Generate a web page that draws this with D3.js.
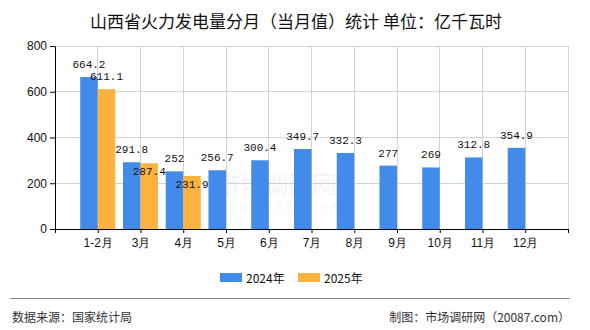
<!DOCTYPE html>
<html><head><meta charset="utf-8">
<script src="https://cdn.jsdelivr.net/npm/d3@7/dist/d3.min.js"></script>
<style>
body{margin:0;background:#fff;}
svg{display:block;font-family:"Noto Sans CJK SC","Noto Sans",sans-serif;}
</style></head>
<body><svg id="c" width="590" height="330"></svg>
<script>
const categories = ["1-2月","3月","4月","5月","6月","7月","8月","9月","10月","11月","12月"];
const values2024 = [664.2,291.8,252,256.7,300.4,349.7,332.3,277,269,312.8,354.9];
const values2025 = [611.1,287.4,231.9];
const seriesNames = ["2024年","2025年"];
const yTicks = [0,200,400,600,800];
const title = "山西省火力发电量分月（当月值）统计 单位：亿千瓦时";
const sourceText = "数据来源：国家统计局";
const creditText = "制图：市场调研网（20087.com）";

const colors = ["#428BEA","#FBB23E"];
const svg = d3.select("#c");
const L = 55, R = 568, T = 46, B = 229;
const x = d3.scaleLinear().domain([0, categories.length + 1]).range([L, R]);
const y = d3.scaleLinear().domain([0, 800]).range([B, T]);
const step = x(1) - x(0);
const barW = step * 0.41;

// title
svg.append("text").attr("x", 296).attr("y", 20).attr("text-anchor","middle")
  .attr("dominant-baseline","central").attr("font-size",17).attr("fill","#111").text(title);

// watermark
const wm = svg.append("g").attr("fill","#000").attr("opacity",0.045);
wm.append("text").attr("x",276).attr("y",193).attr("text-anchor","middle").attr("font-size",24).text("市场调研网");
wm.append("text").attr("x",280).attr("y",210).attr("text-anchor","middle").attr("font-size",10)
  .attr("font-family","'Liberation Sans',Arial,sans-serif").attr("letter-spacing",4).text("www.20087.com");

// grid
const g = svg.append("g");
g.selectAll("line.h").data(yTicks.filter(d=>d>0)).join("line")
  .attr("x1",L).attr("x2",R).attr("y1",d=>y(d)).attr("y2",d=>y(d))
  .attr("stroke","#d3d3d3").attr("stroke-width",1).attr("shape-rendering","crispEdges");
const vIdx = d3.range(1, categories.length + 2);
g.selectAll("line.v").data(vIdx).join("line")
  .attr("x1",d=>x(d)).attr("x2",d=>x(d)).attr("y1",T).attr("y2",B)
  .attr("stroke","#d3d3d3").attr("stroke-width",1).attr("shape-rendering","crispEdges");

// bars
const series = [values2024, values2025];
series.forEach((vals, s) => {
  svg.append("g").selectAll("rect").data(vals).join("rect")
    .attr("x",(d,i)=> s===0 ? x(i+1)-barW : x(i+1))
    .attr("width",barW)
    .attr("y",d=>y(d)).attr("height",d=>B-y(d))
    .attr("fill",colors[s]);
});

// labels with simple overlap avoidance
const lab = svg.append("g").attr("font-family","'Liberation Mono','DejaVu Sans Mono',monospace")
  .attr("font-size",11).attr("fill","#111").attr("text-anchor","middle");
const labH = 11;
values2024.forEach((d,i)=>{
  lab.append("text").attr("x", x(i+1)-barW/2).attr("y", y(d)-12).attr("dominant-baseline","central").text(d);
});
values2025.forEach((d,i)=>{
  const blueC = y(values2024[i]) - 12;
  let c = y(d) - 12;
  if (Math.abs(c - blueC) < labH) c = y(d) + 9;
  lab.append("text").attr("x", x(i+1)+barW/2).attr("y", c).attr("dominant-baseline","central").text(d);
});

// axes
const yAxis = svg.append("g").attr("transform",`translate(${L},0)`)
  .call(d3.axisLeft(y).tickValues(yTicks).tickSize(5).tickSizeOuter(0));
yAxis.selectAll("text").attr("font-size",12).attr("fill","#111").attr("font-family","'Liberation Sans',Arial,sans-serif");
yAxis.selectAll("line,path").attr("stroke","#000");

const xAxis = svg.append("g").attr("transform",`translate(0,${B})`)
  .call(d3.axisBottom(x).tickValues(d3.range(0, categories.length + 2)).tickSize(4).tickSizeOuter(0)
    .tickFormat(d => categories[d-1] || ""));
xAxis.selectAll("text").attr("font-size",12).attr("fill","#111").attr("dy","0.95em");
xAxis.selectAll("line,path").attr("stroke","#000");

// legend
const lg = svg.append("g");
const legX = [220, 298];
seriesNames.forEach((n,s)=>{
  lg.append("rect").attr("x",legX[s]).attr("y",273).attr("width",22).attr("height",9).attr("fill",colors[s]);
  lg.append("text").attr("x",legX[s]+26).attr("y",277.5).attr("dominant-baseline","central")
    .attr("font-size",12).attr("fill","#111").text(n);
});

// footer
svg.append("line").attr("x1",10).attr("x2",570).attr("y1",298.5).attr("y2",298.5).attr("stroke","#888").attr("stroke-width",1);
svg.append("text").attr("x",12).attr("y",316.5).attr("dominant-baseline","central").attr("font-size",12).attr("fill","#333").text(sourceText);
svg.append("text").attr("x",570).attr("y",316.5).attr("text-anchor","end").attr("dominant-baseline","central").attr("font-size",12).attr("fill","#333").text(creditText);
</script></body></html>
